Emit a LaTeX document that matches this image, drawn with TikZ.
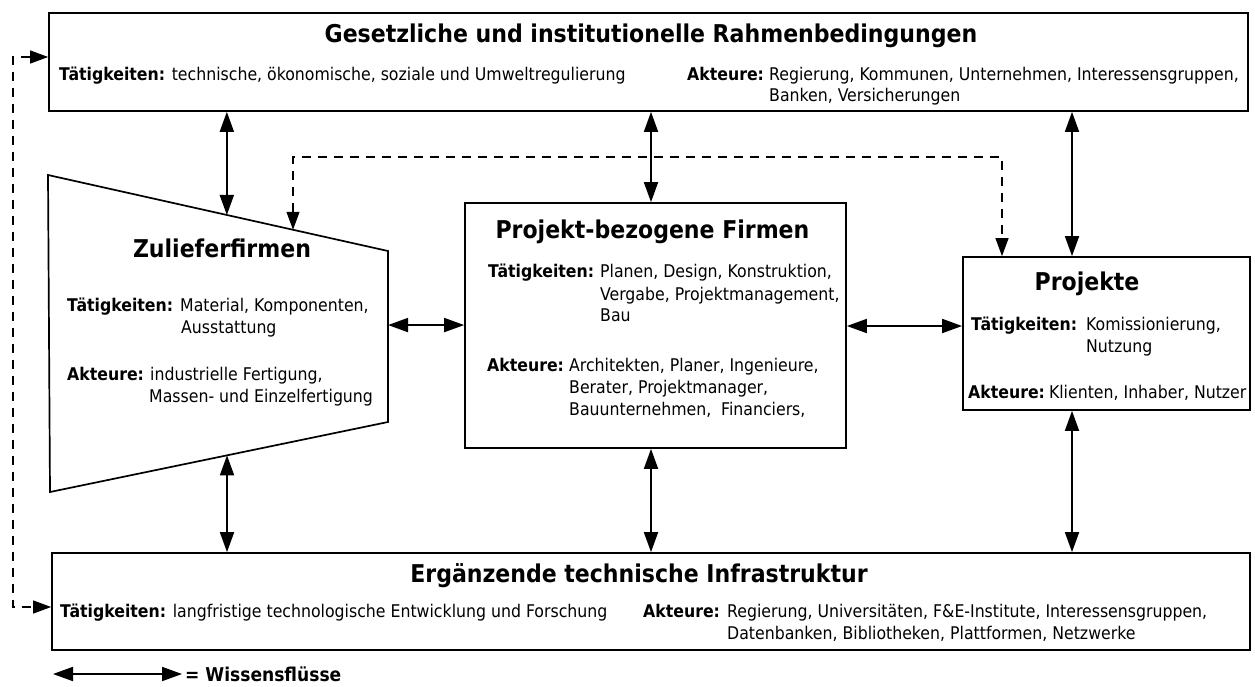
\documentclass[tikz,border=0pt]{standalone}
\usepackage{fontspec}
\setmainfont{DejaVu Sans Condensed}
\usetikzlibrary{arrows.meta,calc}
\begin{document}
\begin{tikzpicture}[x=1pt,y=-1pt,
  box/.style={draw,line width=1.7pt,inner sep=0pt},
  ttl/.style={font=\fontsize{24.5}{28}\selectfont\bfseries,inner sep=0pt,anchor=base},
  txt/.style={font=\fontsize{17.5}{21}\selectfont,inner sep=0pt,anchor=base west},
  lbl/.style={font=\fontsize{17.5}{21}\selectfont\bfseries,inner sep=0pt,anchor=base west},
  flow/.style={line width=1.8pt,{Triangle[length=20pt,width=14pt]}-{Triangle[length=20pt,width=14pt]}},
  dflow/.style={line width=1.1pt,dash pattern=on 9pt off 7pt,{Triangle[length=18pt,width=13pt]}-{Triangle[length=18pt,width=13pt]}},
]
\useasboundingbox[fill=white] (0,0) rectangle (1255,686);

% boxes
\node[box,minimum width=1199pt,minimum height=98pt] (rb) at (648.5,62) {};
\node[box,minimum width=381pt,minimum height=245pt] (pf) at (655.5,325.5) {};
\node[box,minimum width=287pt,minimum height=153pt] (pj) at (1106.5,333.5) {};
\node[box,minimum width=1198pt,minimum height=97pt] (inf) at (651,601.5) {};

% trapezoid Zulieferfirmen
\coordinate (ztl) at (48,175);
\coordinate (ztr) at (388,251);
\coordinate (zbr) at (388,422);
\coordinate (zbl) at (50,492);
\draw[line width=1.7pt,line join=miter] (ztl) -- (ztr) -- (zbr) -- (zbl) -- cycle;
\coordinate (za) at ($(ztl)!0.526!(ztr)$);
\coordinate (zd) at ($(ztl)!0.7206!(ztr)$);
\coordinate (zb) at ($(zbl)!0.5237!(zbr)$);
\coordinate (zr) at ($(ztr)!0.433!(zbr)$);

% helper coordinates
\coordinate (cx) at (651,0);
\coordinate (rx) at (1072,0);
\coordinate (pm) at (905,326);
\coordinate (dx) at (1002,157);
\coordinate (lx) at (13,57);
\coordinate (lb) at (13,607);

% knowledge flows
\draw[flow] (rb.south -| za) -- (za);
\draw[flow] (zb) -- (zb |- inf.north);
\draw[flow] (zr) -- (zr -| pf.west);
\draw[flow] (pm -| pf.east) -- (pm -| pj.west);
\draw[flow] (rb.south -| cx) -- (pf.north -| cx);
\draw[flow] (pf.south -| cx) -- (inf.north -| cx);
\draw[flow] (rb.south -| rx) -- (pj.north -| rx);
\draw[flow] (pj.south -| rx) -- (inf.north -| rx);

% dashed flows
\draw[dflow] (zd) |- (dx) -- (dx |- pj.north);
\draw[dflow] (rb.west |- lx) -- (lx) -- (lb) -- (lb -| inf.west);

% top box text
\node[ttl] (rbT) at (651,42) {Gesetzliche und institutionelle Rahmenbedingungen};
\node[txt] (rbA) at (59,80) {\textbf{Tätigkeiten:} technische, ökonomische, soziale und Umweltregulierung};
\node[lbl] (rbB) at (687,80) {Akteure:};
\node[txt] (rbC) at (769,80) {Regierung, Kommunen, Unternehmen, Interessensgruppen,};
\node[txt] (rbD) at (769,101) {Banken, Versicherungen};

% Zulieferfirmen text
\node[ttl] (zT) at (222,257) {Zulieferfirmen};
\node[lbl] (zA) at (67,311) {Tätigkeiten:};
\node[txt] (zB) at (180,311) {Material, Komponenten,};
\node[txt] (zC) at (181,333) {Ausstattung};
\node[lbl] (zD) at (67,380) {Akteure:};
\node[txt] (zE) at (150,380) {industrielle Fertigung,};
\node[txt] (zF) at (149,402) {Massen- und Einzelfertigung};

% Projekt-bezogene Firmen text
\node[ttl] (pfT) at (652.5,238) {Projekt-bezogene Firmen};
\node[lbl] (pfA) at (488,277) {Tätigkeiten:};
\node[txt] (pfB) at (600,277) {Planen, Design, Konstruktion,};
\node[txt] (pfC) at (600,300) {Vergabe, Projektmanagement,};
\node[txt] (pfD) at (600,321) {Bau};
\node[lbl] (pfE) at (487,371) {Akteure:};
\node[txt] (pfF) at (569,371) {Architekten, Planer, Ingenieure,};
\node[txt] (pfG) at (569,393) {Berater, Projektmanager,};
\node[txt] (pfH) at (569,415) {Bauunternehmen,\ \ Financiers,};

% Projekte text
\node[ttl] (pjT) at (1087,290) {Projekte};
\node[lbl] (pjA) at (971,330) {Tätigkeiten:};
\node[txt] (pjB) at (1086,330) {Komissionierung,};
\node[txt] (pjC) at (1086,352) {Nutzung};
\node[txt] (pjE) at (968,398) {\textbf{Akteure:}\hspace{4pt}Klienten, Inhaber, Nutzer};

% bottom box text
\node[ttl] (infT) at (639,582) {Ergänzende technische Infrastruktur};
\node[txt] (infA) at (60,617) {\textbf{Tätigkeiten:} langfristige technologische Entwicklung und Forschung};
\node[lbl] (infB) at (643,617) {Akteure:};
\node[txt] (infC) at (727,617) {Regierung, Universitäten, F\&E-Institute, Interessensgruppen,};
\node[txt] (infD) at (727,639) {Datenbanken, Bibliotheken, Plattformen, Netzwerke};

% legend
\coordinate (l1) at (53,674);
\coordinate (l2) at (182,674);
\draw[flow] (l1) -- (l2);
\node[lbl,font=\fontsize{19}{22}\selectfont\bfseries] (leg) at (185,681) {= Wissensflüsse};
\end{tikzpicture}
\end{document}
